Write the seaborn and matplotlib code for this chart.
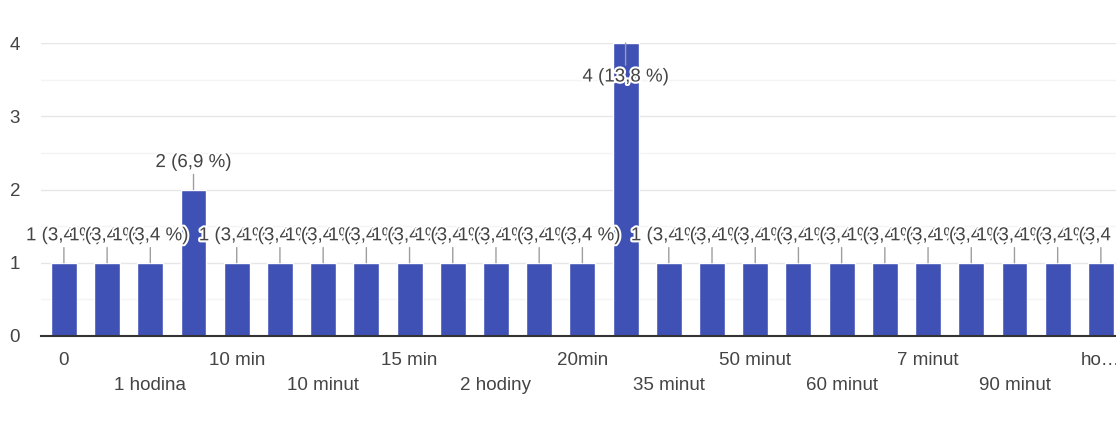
import matplotlib
matplotlib.use('Agg')
import matplotlib.pyplot as plt
import matplotlib.patheffects as pe
import seaborn as sns

# ========== data ==========
categories = ['0', '1 hod', '1 hodina', '1,5 hodiny', '10 min', '10 min.', '10 minut',
              '15', '15 min', '15 minut', '2 hodiny', '20 minut', '20min', '30 minut',
              '35 minut', '45 minut', '50 minut', '5 minut', '60 minut', '60min',
              '7 minut', '90 min', '90 minut', 'hodina', 'hodina a půl']
counts = [1, 1, 1, 2, 1, 1, 1, 1, 1, 1, 1, 1, 1, 4, 1, 1, 1, 1, 1, 1, 1, 1, 1, 1, 1]
total = sum(counts)

sns.set_theme(style='white')
plt.rcParams['font.family'] = ['Liberation Sans', 'DejaVu Sans']

fig = plt.figure(figsize=(11.16, 4.21), dpi=100)
ax = fig.add_axes([41 / 1116, 1 - 336 / 421, 1 - 41 / 1116, (336 - 43) / 421])

sns.barplot(x=categories, y=counts, order=categories, color='#3f51b5',
            saturation=1, width=0.6, ax=ax, zorder=2)

ax.set_xlim(-0.53, 24.35)
ax.set_ylim(0, 4)
ax.set_yticks([0, 1, 2, 3, 4])
ax.set_yticks([0.5, 1.5, 2.5, 3.5], minor=True)
ax.grid(axis='y', which='major', color='#e6e6e6', lw=1, zorder=0)
ax.grid(axis='y', which='minor', color='#f4f4f4', lw=1, zorder=0)
for s in ['left', 'right', 'top']:
    ax.spines[s].set_visible(False)
ax.spines['bottom'].set_color('#333333')
ax.spines['bottom'].set_linewidth(1.5)
ax.spines['bottom'].set_zorder(3)
ax.tick_params(axis='y', which='both', length=0, pad=15, labelsize=13.5, labelcolor='#444444')
ax.tick_params(axis='x', length=0)
ax.set_xticklabels([])
ax.set_xlabel('')
ax.set_ylabel('')

# staggered category labels (every other one shown)
for i, lab in enumerate(categories):
    if i % 2:
        continue
    shown = lab if i < len(categories) - 1 else lab[:2] + '…'
    dy = -17.3 if i % 4 == 0 else -36
    ax.annotate(shown, xy=(i, 0), xycoords=('data', 'axes fraction'),
                xytext=(0, dy), textcoords='offset points', ha='center', va='center',
                fontsize=13.5, color='#444444', annotation_clip=False)

# value labels with leader lines (they overlap, as in the original)
halo = [pe.withStroke(linewidth=3, foreground='white')]
for i, v in enumerate(counts):
    pct = f'{v / total * 100:.1f}'.replace('.', ',')
    txt = f'{v} ({pct} %)'
    dy = 19.4 if v < max(counts) else -24.5
    ax.annotate(txt, xy=(i, v), xytext=(0, dy), textcoords='offset points',
                ha='center', va='center', fontsize=13.5, color='#444444',
                path_effects=halo, zorder=4, annotation_clip=False,
                arrowprops=dict(arrowstyle='-', color='#9e9e9e', lw=1,
                                shrinkA=0, shrinkB=0))

fig.savefig('out.png', dpi=100)
